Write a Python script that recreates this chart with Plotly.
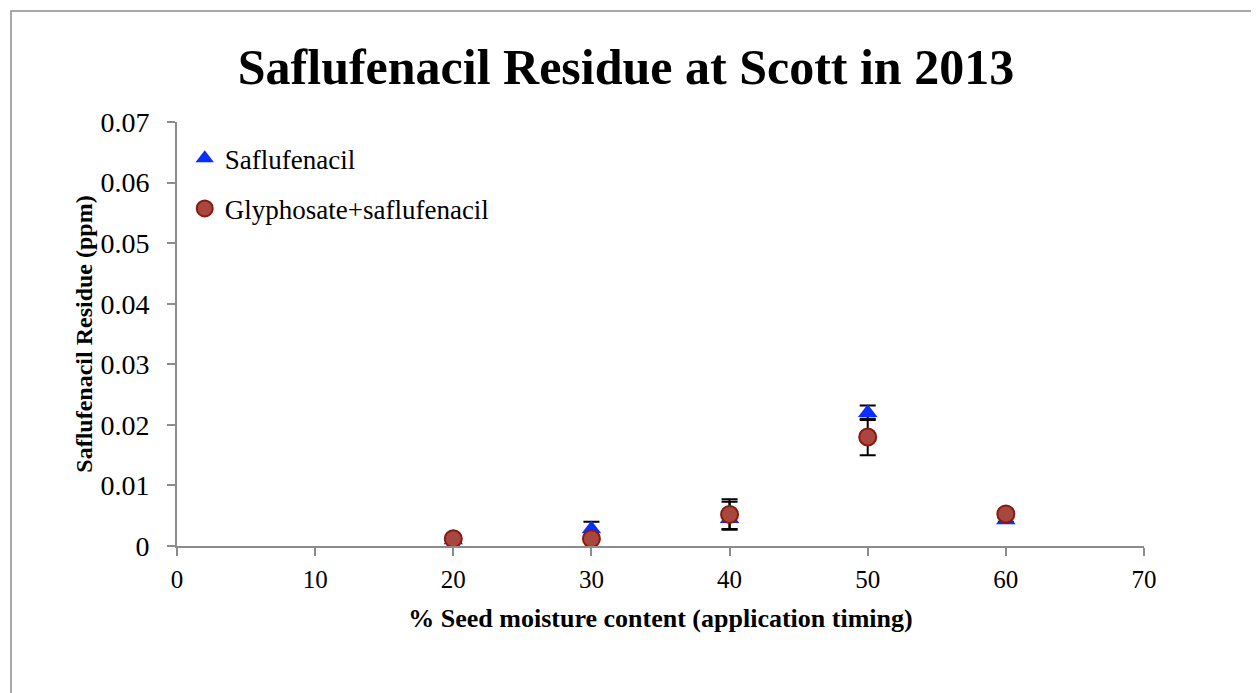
import plotly.graph_objects as go

moisture = [20, 30, 40, 50, 60]
saflufenacil = [0.001, 0.0028, 0.0045, 0.022, 0.0043]
saflufenacil_err_plus = [0.0003, 0.0012, 0.0028, 0.0012, 0.0003]
saflufenacil_err_minus = [0.0003, 0.0012, 0.0017, 0.0012, 0.0003]
glyph_saf = [0.0012, 0.0012, 0.0052, 0.018, 0.0053]
glyph_saf_err = [0.0003, 0.0003, 0.0025, 0.003, 0.0003]

x_ticks = [0, 10, 20, 30, 40, 50, 60, 70]
y_ticks = [0, 0.01, 0.02, 0.03, 0.04, 0.05, 0.06, 0.07]
y_tick_labels = ["0", "0.01", "0.02", "0.03", "0.04", "0.05", "0.06", "0.07"]

FONT = "Liberation Serif, Times New Roman, serif"

fig = go.Figure()
fig.add_trace(go.Scatter(
    x=moisture, y=saflufenacil, mode="markers", name="Saflufenacil",
    legendgroup="a",
    marker=dict(symbol="triangle-up", size=17, color="#0A2EFF",
                line=dict(width=0)),
    error_y=dict(type="data", array=saflufenacil_err_plus,
                 arrayminus=saflufenacil_err_minus, symmetric=False,
                 color="black", thickness=2, width=8),
))
fig.add_trace(go.Scatter(
    x=moisture, y=glyph_saf, mode="markers", name="Glyphosate+saflufenacil",
    legendgroup="b",
    marker=dict(symbol="circle", size=17, color="#A8473F",
                line=dict(width=2, color="#8A1A0E")),
    error_y=dict(type="data", array=glyph_saf_err,
                 color="black", thickness=2, width=8),
))

fig.update_layout(
    width=1251, height=685,
    margin=dict(l=169, r=115, t=114, b=147),
    paper_bgcolor="white", plot_bgcolor="white",
    font=dict(family=FONT, size=26, color="black"),
    title=dict(text="<b>Saflufenacil Residue at Scott in 2013</b>",
               x=0.494, xref="container", xanchor="center", y=0.914, yref="container",
               yanchor="middle", font=dict(family=FONT, size=50, color="black")),
    showlegend=True,
    legend=dict(x=0.008, y=0.971, xanchor="left", yanchor="top",
                font=dict(family=FONT, size=27), tracegroupgap=12,
                bgcolor="rgba(0,0,0,0)", itemwidth=30),
    xaxis=dict(range=[0, 70], tickvals=x_ticks, showgrid=False, zeroline=False,
               showline=True, linecolor="#8C8C8C", linewidth=2,
               ticks="outside", tickcolor="#8C8C8C", ticklen=8, tickwidth=2,
               tickfont=dict(family=FONT, size=25), ticklabelstandoff=2,
               title=dict(text="<b>% Seed moisture content (application timing)</b>",
                          font=dict(family=FONT, size=26), standoff=17)),
    yaxis=dict(range=[0, 0.07], tickvals=y_ticks, ticktext=y_tick_labels,
               showgrid=False, zeroline=False,
               showline=True, linecolor="#8C8C8C", linewidth=2,
               ticks="outside", tickcolor="#8C8C8C", ticklen=8, tickwidth=2,
               tickfont=dict(family=FONT, size=28), ticklabelstandoff=12,
               title=dict(text="<b>Saflufenacil Residue (ppm)</b>",
                          font=dict(family=FONT, size=24), standoff=1)),
    shapes=[dict(type="rect", xref="paper", yref="paper",
                 x0=(11 - 177) / 967, x1=1.3, y0=-0.6, y1=(546 - 11) / 424,
                 line=dict(color="#8C8C8C", width=1.5), layer="below")],
)

fig.write_html("out.html")
